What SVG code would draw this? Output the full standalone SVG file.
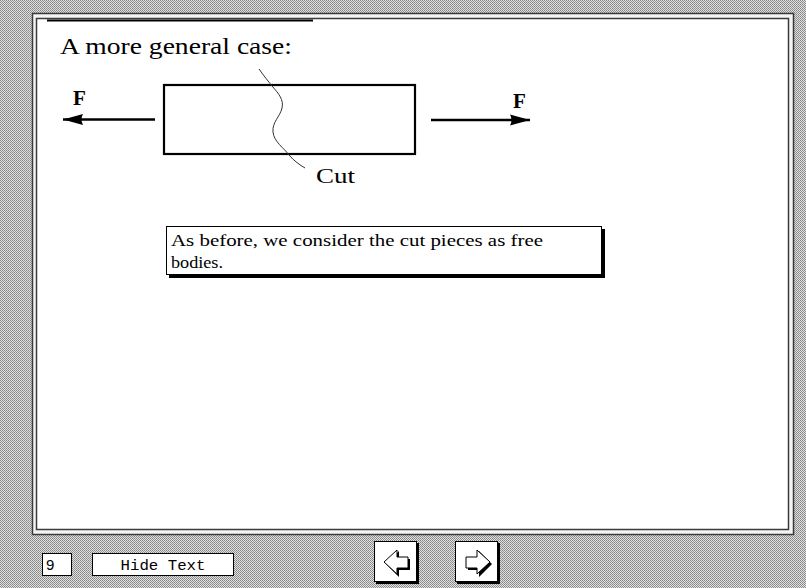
<svg xmlns="http://www.w3.org/2000/svg" width="806" height="588" viewBox="0 0 806 588">
  <defs>
    <pattern id="dither" width="2" height="2" patternUnits="userSpaceOnUse">
      <rect width="2" height="2" fill="#e0e0e0"/>
      <rect width="1" height="1" fill="#858585"/>
      <rect x="1" y="1" width="1" height="1" fill="#959595"/>
    </pattern>
    <marker id="head" viewBox="0 0 20 12" refX="20" refY="6" markerWidth="20" markerHeight="12" markerUnits="userSpaceOnUse" orient="auto">
      <path d="M0,0.5 Q3,6 0,11.5 L20,6 Z" fill="#000"/>
    </marker>
  </defs>
  <style>
    .serif { font-family: "Liberation Serif", "DejaVu Serif", serif; fill: #000; }
    .mono { font-family: "Liberation Mono", "DejaVu Sans Mono", monospace; fill: #000; }
    .sans { font-family: "Liberation Sans", Arial, sans-serif; fill: #000; }
    .force { stroke: #000; stroke-width: 2.4; fill: none; }
    .btn { fill: #fff; stroke: #000; stroke-width: 1; }
    .shadow { fill: #000; }
  </style>

  <!-- page background -->
  <rect width="806" height="588" fill="url(#dither)"/>

  <!-- slide frame -->
  <g id="frame">
    <rect x="32.5" y="13.5" width="761" height="521" fill="#f4f4f4" stroke="#3a3a3a" stroke-width="1.5"/>
    <rect x="36.5" y="18.5" width="752" height="511" fill="#fff" stroke="#3a3a3a" stroke-width="1.5"/>
    <line x1="47" y1="20.5" x2="313" y2="20.5" stroke="#000" stroke-width="2"/>
  </g>

  <!-- heading -->
  <g id="title">
    <text class="serif" x="60" y="54" font-size="23" textLength="232" lengthAdjust="spacingAndGlyphs">A more general case:</text>
  </g>

  <!-- bar under load -->
  <g id="bar">
    <rect x="164" y="85" width="251" height="69" fill="none" stroke="#000" stroke-width="2.2"/>
  </g>

  <!-- cut line with its label -->
  <g id="cut">
    <path d="M259,69 C264,76 268,81 272,86 C279,94 284,100 282,108 C280,117 272,122 273,132 C274,142 284,148 289,155 C294,161 300,165 305,168" fill="none" stroke="#333" stroke-width="1"/>
    <text class="serif" x="316" y="183" font-size="20" textLength="39" lengthAdjust="spacingAndGlyphs">Cut</text>
  </g>

  <!-- applied forces -->
  <g id="connectors">
    <line class="force" x1="155" y1="119.5" x2="63" y2="119.5" marker-end="url(#head)"/>
    <line class="force" x1="431" y1="120" x2="530" y2="120" marker-end="url(#head)"/>
  </g>
  <g id="force-left">
    <text class="serif" x="73" y="105" font-size="21" font-weight="bold">F</text>
  </g>
  <g id="force-right">
    <text class="serif" x="513" y="108" font-size="21" font-weight="bold">F</text>
  </g>

  <!-- explanatory note -->
  <g id="note">
    <rect x="169" y="229" width="436" height="49" class="shadow"/>
    <rect x="166.5" y="226.5" width="435" height="48" fill="#fff" stroke="#000" stroke-width="1"/>
    <text class="serif" x="171" y="246" font-size="16.5" textLength="372" lengthAdjust="spacingAndGlyphs">As before, we consider the cut pieces as free</text>
    <text class="serif" x="171" y="268" font-size="16.5" textLength="52" lengthAdjust="spacingAndGlyphs">bodies.</text>
  </g>

  <!-- page number -->
  <g id="page-number">
    <rect class="btn" x="42.5" y="553.5" width="29" height="22"/>
    <text class="sans" x="46" y="570" font-size="15">9</text>
  </g>

  <!-- text toggle -->
  <g id="hide-text">
    <rect class="btn" x="92.5" y="553.5" width="141" height="22"/>
    <text class="mono" x="163" y="570" font-size="14" text-anchor="middle" textLength="85" lengthAdjust="spacingAndGlyphs">Hide Text</text>
  </g>

  <!-- previous page button -->
  <g id="prev">
    <rect class="shadow" x="376" y="543" width="43" height="41"/>
    <rect class="btn" x="374.5" y="541.5" width="42" height="40"/>
    <path d="M386,564 L399,551 L399,559 L410,559 L410,570 L399,570 L399,577 Z" fill="#000"/>
    <path d="M384,562 L397,550 L397,557 L408,557 L408,568 L397,568 L397,574 Z" fill="#fff" stroke="#000" stroke-width="1"/>
  </g>

  <!-- next page button -->
  <g id="next">
    <rect class="shadow" x="457" y="543" width="43" height="41"/>
    <rect class="btn" x="455.5" y="541.5" width="42" height="40"/>
    <path d="M468,559 L479,559 L479,551 L492,564 L479,577 L479,570 L468,570 Z" fill="#000"/>
    <path d="M466,557 L477,557 L477,550 L490,562 L477,574 L477,568 L466,568 Z" fill="#fff" stroke="#000" stroke-width="1"/>
  </g>
</svg>
